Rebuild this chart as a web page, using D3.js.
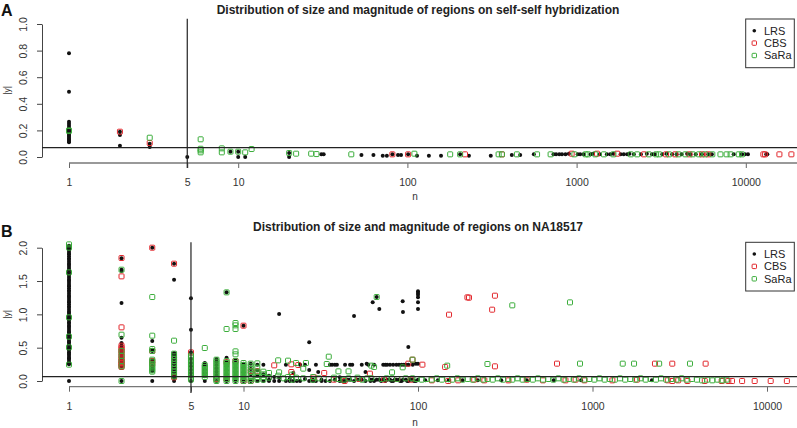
<!DOCTYPE html>
<html>
<head>
<meta charset="utf-8">
<script src="https://cdn.jsdelivr.net/npm/d3@7"></script>
<style>
  body { margin: 0; background: #fff; }
  svg { display: block; font-family: "Liberation Sans", Arial, sans-serif; }
</style>
</head>
<body>
<svg id="chart" width="797" height="428"></svg>
<script>
// ---- data: each entry is [n, [|y| values at that n]] ----

const seriesNames = ["LRS", "CBS", "SaRa"];
const xTicks = [1, 5, 10, 100, 1000, 10000];
const yTicksA = [0, 0.2, 0.4, 0.6, 0.8, 1.0];
const yTicksB = [0, 0.5, 1.0, 1.5, 2.0];

// panel A : self-self hybridization
const lrsA = [
  [1, [0.78, 0.49, 0.265, 0.25, 0.235, 0.22, 0.21, 0.2, 0.19, 0.18, 0.17, 0.16, 0.15, 0.14, 0.13, 0.12, 0.11]],
  [2, [0.19, 0.165, 0.085]], [3, [0.1, 0.075]], [5, [0]], [9, [0.04]], [10, [0.04, 0]], [11, [0]],
  [20, [0.03, 0]], [31, [0.02]], [32, [0.02]], [53.5, [0.015]], [63, [0.015]], [71.5, [0.01]],
  [75.6, [0.01]], [81.5, [0.02]], [88, [0.015]], [91.7, [0.015]], [101, [0.02]], [114, [0.01]],
  [134, [0.01]], [158, [0.01]], [205, [0.02]], [231, [0.01]], [311, [0.01]], [414, [0.015]],
  [464, [0.015]], [559, [0.02]], [730, [0.02]], [756, [0.02]], [790, [0.02]], [820, [0.02]],
  [860, [0.02]], [900, [0.025]], [1015, [0.02]], [1050, [0.02]], [1100, [0.02]], [1210, [0.02]],
  [1250, [0.025]], [1370, [0.02]], [1510, [0.02]], [1580, [0.02]], [1650, [0.025]], [1820, [0.02]],
  [1900, [0.02]], [1990, [0.02]], [2050, [0.025]], [2180, [0.02]], [2400, [0.02]], [2600, [0.025]],
  [2790, [0.02]], [2900, [0.02]], [3210, [0.02]], [3400, [0.025]], [3670, [0.02]], [3900, [0.02]],
  [4170, [0.02]], [4500, [0.025]], [4700, [0.02]], [5060, [0.02]], [5500, [0.02]], [6000, [0.02]],
  [6300, [0.02]], [8480, [0.02]], [9470, [0.02]], [9880, [0.02]], [10300, [0.02]],
  [13200, [0.02]], [13400, [0.02]]
];
const cbsA = [
  [2, [0.19]], [3, [0.105]], [81.5, [0.02]], [101, [0.02]], [219, [0.02]], [362, [0.02]],
  [935, [0.025]], [1320, [0.025]], [1740, [0.025]], [2500, [0.02]], [3380, [0.02]], [3830, [0.02]],
  [4650, [0.02]], [5510, [0.02]], [6000, [0.02]], [12700, [0.02]], [13000, [0.02]],
  [15800, [0.02]], [18600, [0.02]]
];
const saraA = [
  [1, [0.195, 0.2]], [3, [0.145]], [6, [0.133, 0.062, 0.05, 0.035]], [8, [0.065, 0.035]],
  [9, [0.04]], [10, [0.04]], [11, [0.035]], [12, [0.06]], [20, [0.03]], [22, [0.025]],
  [27, [0.025]], [29, [0.022]], [46.6, [0.02]], [110, [0.025]], [179, [0.02]], [205, [0.02]],
  [346, [0.02]], [362, [0.02]], [444, [0.02]], [584, [0.02]], [702, [0.02]], [970, [0.02]],
  [1130, [0.02]], [1170, [0.02]], [1290, [0.02]], [1450, [0.02]], [1650, [0.02]], [2090, [0.02]],
  [2280, [0.02]], [2670, [0.02]], [2950, [0.02]], [3080, [0.02]], [3520, [0.02]], [4000, [0.02]],
  [4400, [0.02]], [4850, [0.02]], [5280, [0.02]], [5750, [0.02]], [6340, [0.02]], [7080, [0.02]],
  [7700, [0.02]], [8130, [0.02]], [9080, [0.02]], [9500, [0.02]]
];

// panel B : NA18517
const lrsB = [
  [1, [0, 0.25, 0.27, 0.29, 0.32, 0.34, 0.36, 0.39, 0.41, 0.43, 0.46, 0.48, 0.5, 0.53, 0.55, 0.58,
       0.6, 0.63, 0.65, 0.68, 0.7, 0.73, 0.75, 0.78, 0.81, 0.83, 0.86, 0.88, 0.91, 0.94, 0.96, 0.99,
       1.02, 1.04, 1.07, 1.1, 1.12, 1.15, 1.18, 1.2, 1.23, 1.26, 1.28, 1.31, 1.34, 1.36, 1.39, 1.42,
       1.44, 1.47, 1.5, 1.52, 1.55, 1.58, 1.6, 1.63, 1.66, 1.68, 1.71, 1.74, 1.76, 1.79, 1.82, 1.84,
       1.87, 1.9, 1.92, 1.95, 1.98, 2.0, 2.03]],
  [2, [1.84, 1.67, 1.65, 1.17, 0.65, 0.57, 0.53, 0.5, 0.46, 0.43, 0.4, 0.36, 0.33, 0.3, 0.26, 0.22, 0]],
  [3, [2.0, 0.6, 0.47, 0.45, 0.31, 0.27, 0.22, 0.18, 0.15, 0]],
  [4, [1.76, 1.52, 0.42, 0.4, 0.37, 0.33, 0.29, 0.25, 0.21, 0.17, 0.13, 0.09, 0.05, 0]],
  [5, [1.24, 0.77, 0.43, 0.33, 0.27, 0.22, 0.17, 0.12, 0.07, 0]],
  [6, [0.27, 0.23, 0.17, 0.12, 0.07, 0]], [7, [0.33, 0.29, 0.24, 0.19, 0.14, 0.09, 0]],
  [8, [1.33, 0.35, 0.28, 0.22, 0.16, 0.1, 0]], [9, [0.31, 0.26, 0.2, 0.14, 0.08, 0]],
  [10, [0.83, 0.26, 0.2, 0.13, 0.07, 0]], [11, [0.26, 0.18, 0.1, 0]], [12, [0.245, 0.16, 0.08, 0]],
  [13, [0.245, 0.1, 0]], [14, [0.08, 0.02, 0]], [15, [0.06, 0]], [16, [1.005, 0.05, 0]],
  [17.5, [0.245, 0]], [18.4, [0.03, 0]], [19.3, [0.12, 0]], [20.2, [0]], [21.1, [0.245, 0]],
  [22.5, [0.245, 0.03]], [23.8, [0.58, 0.165, 0]], [25, [0.02, 0]], [26, [0.245, 0]], [26.8, [0.135]],
  [28, [0.02, 0]], [29.5, [0]], [31.3, [0.245, 0]], [32.2, [0.245]], [33.4, [0.245, 0.02]],
  [34.3, [0.245]], [35.6, [0.055, 0]], [37, [0]], [38.2, [0.245, 0]], [39.5, [0.02]],
  [40.8, [0.245, 0.02]], [42, [0.245]], [43, [0.975, 0]], [45.3, [0.02]], [47.6, [0.245, 0.02]],
  [50, [0.135, 0]], [50.8, [0.26]], [51.9, [0.245]], [53.4, [0.02, 0]], [55, [1.18, 0.02]],
  [56, [0.245, 0]], [58, [1.26, 0.02]], [60, [1.08, 0.02]], [61.5, [0]], [63.2, [0.245, 0.02]],
  [65, [0.245, 0]], [66.6, [0.245, 0.02]], [69.1, [0.245, 0.02]], [70.5, [0]], [72, [0.245, 0]],
  [73.6, [0.02]], [75.2, [0.245, 0.02]], [77.8, [0.245, 0.02]], [79, [0]], [80.6, [0.245, 0]],
  [81.7, [1.195]], [82, [1.035, 0.02]], [83, [0.245]], [85.3, [0.245, 0.02]], [86.8, [0]],
  [88, [0.51, 0.245, 0]], [90.5, [0.02]], [93.2, [0.245, 0.02]], [95, [0]], [97.2, [0.26, 0]],
  [100, [1.345, 1.32, 1.295, 1.255, 1.18, 1.08, 0.26, 0.02]],
  [110, [0.01]], [130, [0.01]], [150, [0.01]], [180, [0.01]], [220, [0.01]], [300, [0.01]],
  [420, [0.01]], [600, [0.01]], [860, [0.01]], [2190, [0.01]]
];
const cbsB = [
  [2, [1.845, 1.57, 0.805, 0.53, 0.5, 0.47, 0.44, 0.41, 0.37, 0.34, 0.31, 0.29, 0.27, 0.25, 0.23, 0.21]],
  [3, [2.0, 0.45, 0.3, 0.26]], [4, [1.76, 0.055]], [5, [0.43]], [7, [0.03]], [8, [0.28, 0.03]],
  [9, [0.3]], [10, [0.83, 0]], [11, [0.15, 0]], [12, [0.145]], [15, [0.235]], [18.8, [0.25, 0.135]],
  [20.6, [0.24]], [25.4, [0.055]], [29, [0.12]], [33, [0.02]], [38, [0]], [46, [0.03]], [53, [0.11]],
  [64, [0.02]], [76, [0.03]], [88, [0.26]], [91, [0.02]], [93, [0.32]], [106, [0.245]],
  [120, [0.01]], [143, [0.21]], [149, [0]], [150.6, [0.995]], [170, [0.01]], [192, [1.255]],
  [196, [1.25]], [210, [0.02]], [240, [0.01]], [266, [1.07]], [276, [1.28, 0.22]], [330, [0.01]],
  [420, [0.02]], [520, [0.01]], [626, [0.26]], [700, [0.01]], [800, [0.02]], [900, [0.01]],
  [1300, [0.01]], [1800, [0.02]], [2280, [0.26]], [2700, [0.01]], [2865, [0.26, 0]], [3100, [0.01]],
  [3500, [0]], [4400, [0]], [4450, [0.26]], [5500, [0]], [6000, [0]], [6300, [0]], [7200, [0]],
  [8500, [0]], [10500, [0]], [13000, [0]]
];
const saraB = [
  [1, [2.05, 2.0, 1.63, 0.955, 0.665, 0.505, 0.245]],
  [2, [1.67, 0.695, 0.45, 0.38, 0.3, 0.22, 0]],
  [3, [1.26, 0.68, 0.48, 0.45, 0.32, 0.29, 0.25, 0.22, 0.19, 0.16, 0.14]],
  [4, [0.605, 0.41, 0.37, 0.33, 0.3, 0.26, 0.22, 0.18, 0.14, 0.1, 0.07]],
  [5, [0.38, 0.35, 0.32, 0.29, 0.26, 0.23, 0.2, 0.17, 0.14, 0.11, 0.08, 0.05, 0.02]],
  [6, [0.495, 0.24, 0.21, 0.18, 0.15, 0.12, 0.09, 0.06]],
  [7, [0.32, 0.29, 0.26, 0.23, 0.2, 0.17, 0.14, 0.11, 0.08, 0.05, 0.02, 0]],
  [8, [1.33, 0.78, 0.3, 0.27, 0.24, 0.21, 0.18, 0.15, 0.12, 0.09, 0.06, 0.03, 0]],
  [9, [0.87, 0.835, 0.78, 0.445, 0.4, 0.3, 0.27, 0.24, 0.21, 0.18, 0.15, 0.12, 0.09, 0.06, 0.03, 0]],
  [10, [0.27, 0.24, 0.21, 0.18, 0.15, 0.12, 0.09, 0.06, 0.03, 0]],
  [11, [0.26, 0.22, 0.18, 0.14, 0.1, 0.06, 0.03, 0]], [12, [0.265, 0.2, 0.14, 0.1, 0.06, 0.02]],
  [13, [0.14, 0.1, 0.06, 0.02]], [14, [0.12, 0.05]], [15.8, [0.31, 0.08]], [16, [0.13]],
  [17, [0.04]], [18, [0.305, 0.06]], [19, [0.095, 0.02]], [20, [0.27, 0.05]], [22, [0.185, 0.04]],
  [22.8, [0.27]], [25, [0.06, 0.02]], [27, [0.04]], [30, [0.255]], [30.8, [0.365, 0.03]],
  [33, [0.05]], [35, [0.145, 0.03]], [37.5, [0.02]], [40, [0.145, 0.04]], [42.5, [0.03]],
  [45, [0.05]], [48, [0.02]], [51, [0.04]], [54, [0.23, 0.04]], [56, [0.21]], [58, [1.26]],
  [62, [0.03]], [66, [0.04]], [71, [0.13, 0.04]], [76, [0.03]], [81.7, [0.205]], [85, [0.04]],
  [93, [0.32, 0.04]], [98, [0.03]], [105, [0.02]], [112, [0.03]], [120, [0.02]], [128, [0.04]],
  [137, [0.02]], [147, [0.23, 0.03]], [157, [0.02]], [168, [0.04]], [180, [0.02]], [193, [0.03]],
  [206, [0.02]], [220, [0.04]], [236, [0.02]], [250, [0.255, 0.03]], [268, [0.02]], [287, [0.04]],
  [307, [0.02]], [328, [0.03]], [347, [1.135, 0.02]], [372, [0.04]], [398, [0.02]], [425, [0.03]],
  [455, [0.02]], [487, [0.04]], [521, [0.02]], [558, [0.03]], [597, [0.02]], [638, [0.04]],
  [683, [0.02]], [731, [0.03]], [743, [1.18]], [782, [0.02]], [837, [0.04]], [848, [0.26]],
  [896, [0.02]], [958, [0.03]], [1025, [0.02]], [1097, [0.04]], [1174, [0.02]], [1256, [0.03]],
  [1344, [0.02]], [1438, [0.04]], [1490, [0.26]], [1539, [0.02]], [1647, [0.03]], [1730, [0.26]],
  [1762, [0.02]], [1885, [0.04]], [2017, [0.02]], [2158, [0.03]], [2310, [0.02]], [2410, [0.26]],
  [2471, [0.04]], [2644, [0.02]], [2829, [0.03]], [3027, [0.02]], [3239, [0.04]], [3466, [0.02]],
  [3620, [0.26]], [3709, [0.03]], [3968, [0.02]], [4246, [0.01]], [4543, [0.02]], [4861, [0.01]],
  [5201, [0.02]], [5565, [0.01]], [5870, [0.02]]
];

const colors = { LRS: "#111111", CBS: "#e2262b", SaRa: "#3aad3a" };

// ---- panel layout ----
const panels = [
  {
    label: "A", title: "Distribution of size and magnitude of regions on self-self hybridization",
    series: [lrsA, cbsA, saraA], yTicks: yTicksA, yMax: 1,
    top: 18.7, y0: 157, y1: 24, xRight: 745.8, axisY: 163, threshold: 0.07,
    titleY: 14, labelY: 16, tickLabelY: 182, nY: 200,
    legendY: 19, vBottom: 168
  },
  {
    label: "B", title: "Distribution of size and magnitude of regions on NA18517",
    series: [lrsB, cbsB, saraB], yTicks: yTicksB, yMax: 2,
    top: 242.3, y0: 381, y1: 247.7, xRight: 767, axisY: 386.7, threshold: 0.065,
    titleY: 231, labelY: 237, tickLabelY: 406.5, nY: 426,
    legendY: 242.3, vBottom: 393
  }
];

const svg = d3.select("#chart");
const W = 797;
const yAxisX = 42;

function flatten(groups) {
  let out = [];
  groups.forEach(g => g[1].forEach(v => out.push({ n: g[0], v: v })));
  return out;
}

panels.forEach(function (p) {
  let x = d3.scaleLog().domain([1, 10000]).range([69, p.xRight]);
  let y = d3.scaleLinear().domain([0, p.yMax]).range([p.y0, p.y1]);
  let g = svg.append("g");

  // panel letter + title
  g.append("text").attr("x", 1).attr("y", p.labelY)
    .attr("font-size", 16).attr("font-weight", "bold").attr("fill", "#111").text(p.label);
  g.append("text").attr("x", 418).attr("y", p.titleY).attr("text-anchor", "middle")
    .attr("font-size", 12).attr("font-weight", "bold").attr("fill", "#222").text(p.title);

  // y axis
  let yAx = g.append("g").attr("transform", `translate(${yAxisX},0)`)
    .call(d3.axisLeft(y).tickValues(p.yTicks).tickFormat(d3.format(".1f")).tickSize(5).tickSizeOuter(0));
  yAx.select(".domain").attr("stroke", "#444");
  yAx.selectAll(".tick line").attr("stroke", "#444");
  yAx.selectAll("text").attr("x", 0).attr("dy", 0)
    .attr("transform", "translate(-15.5,0) rotate(-90)")
    .attr("text-anchor", "middle").attr("font-size", 10.5)
    .attr("font-family", "Liberation Sans, Arial, sans-serif").attr("fill", "#333");

  g.append("text").attr("transform", `translate(10,${(p.y0 + p.y1) / 2}) rotate(-90)`)
    .attr("text-anchor", "middle").attr("font-size", 8.5).attr("fill", "#333").text("|y|");

  // x axis
  let xAx = g.append("g").attr("transform", `translate(0,${p.axisY})`)
    .call(d3.axisBottom(x).tickValues(xTicks).tickFormat(d3.format("d")).tickSize(5).tickSizeOuter(0));
  xAx.select(".domain").remove();
  xAx.selectAll(".tick line").attr("stroke", "#666");
  xAx.selectAll("text").attr("y", p.tickLabelY - p.axisY).attr("dy", "0.35em")
    .attr("font-size", 10.5).attr("font-family", "Liberation Sans, Arial, sans-serif").attr("fill", "#333");
  g.append("line").attr("x1", x(1)).attr("x2", W).attr("y1", p.axisY).attr("y2", p.axisY)
    .attr("stroke", "#777").attr("stroke-width", 1.3);
  g.append("text").attr("x", 415).attr("y", p.nY).attr("text-anchor", "middle")
    .attr("font-size", 10).attr("fill", "#333").text("n");

  // points: LRS dots, then CBS and SaRa open squares
  let lrs = flatten(p.series[0]);
  g.append("g").selectAll("circle").data(lrs).join("circle")
    .attr("cx", d => x(d.n)).attr("cy", d => y(d.v)).attr("r", 2)
    .attr("fill", colors.LRS);

  [[p.series[1], colors.CBS], [p.series[2], colors.SaRa]].forEach(function (s) {
    g.append("g").selectAll("rect").data(flatten(s[0])).join("rect")
      .attr("x", d => x(d.n) - 2.5).attr("y", d => y(d.v) - 2.5)
      .attr("width", 5).attr("height", 5).attr("rx", 0.8)
      .attr("fill", "none").attr("stroke", s[1]).attr("stroke-width", 1);
  });

  // reference lines
  g.append("line").attr("x1", yAxisX).attr("x2", W)
    .attr("y1", y(p.threshold)).attr("y2", y(p.threshold))
    .attr("stroke", "#222").attr("stroke-width", 1.2);
  g.append("line").attr("x1", x(5)).attr("x2", x(5)).attr("y1", p.top).attr("y2", p.vBottom)
    .attr("stroke", "#222").attr("stroke-width", 1.2);

  // legend
  let lg = g.append("g").attr("transform", `translate(745.7,${p.legendY})`);
  lg.append("rect").attr("x", 0).attr("y", 0).attr("width", 48.6).attr("height", 48.7)
    .attr("fill", "#fff").attr("stroke", "#333").attr("stroke-width", 1);
  seriesNames.forEach(function (name, i) {
    let cy = 11.7 + i * 12.4;
    if (name === "LRS") {
      lg.append("circle").attr("cx", 8.6).attr("cy", cy).attr("r", 1.8).attr("fill", colors.LRS);
    } else {
      lg.append("rect").attr("x", 6.4).attr("y", cy - 2.2).attr("width", 4.4).attr("height", 4.4)
        .attr("rx", 0.8).attr("fill", "none").attr("stroke", colors[name]);
    }
    lg.append("text").attr("x", 18.3).attr("y", cy).attr("dy", "0.35em")
      .attr("font-size", 11).attr("fill", "#222").text(name);
  });
});
</script>
</body>
</html>
